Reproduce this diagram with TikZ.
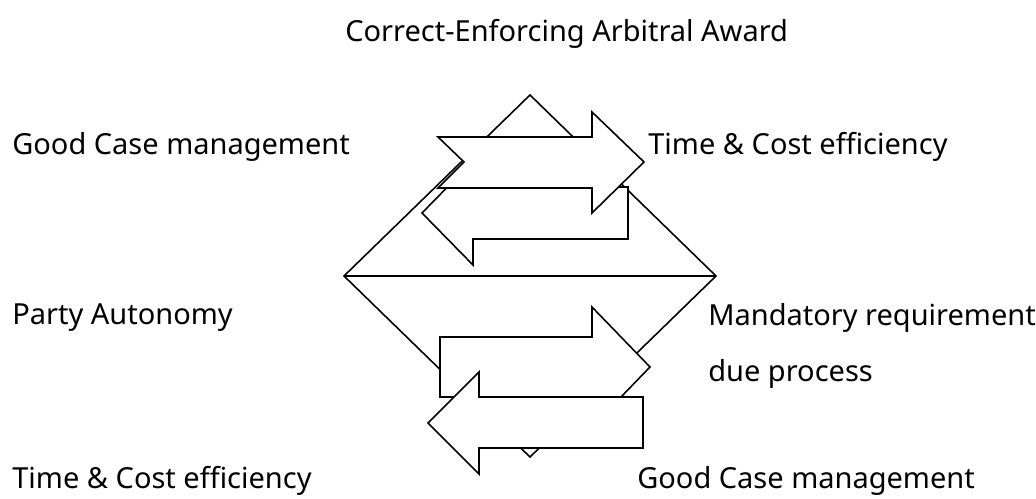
\documentclass[tikz,border=0pt]{standalone}
\usepackage{fontspec}
\setmainfont{Noto Sans}
\usepackage{tikz}
\usetikzlibrary{positioning}

\begin{document}
\begin{tikzpicture}[
  x=0.02cm, y=-0.02cm,
  shp/.style={draw=black, fill=white, line width=0.9pt, line join=miter},
  lbl/.style={font=\fontsize{16.5}{20}\selectfont, anchor=base west, inner sep=0pt},
]
\useasboundingbox (0,0) rectangle (1036,499);

% diamond
\coordinate (dtop) at (530,95);
\coordinate (drgt) at (716,276);
\coordinate (dbot) at (530,457);
\coordinate (dlft) at (344,276);
\draw[shp, fill=none] (dtop) -- (drgt) -- (dbot) -- (dlft) -- cycle;
\draw[shp] (dlft) -- (drgt);

% upper pair
\draw[shp] (422,213) -- (473,161) -- (473,187) -- (628,187) -- (628,239)
  -- (473,239) -- (473,265) -- cycle;
\draw[shp] (438,137) -- (592,137) -- (592,112) -- (644,162) -- (592,213)
  -- (592,188) -- (438,188) -- (464,162) -- cycle;

% lower pair
\draw[shp] (440,337) -- (592,337) -- (592,307) -- (650,367) -- (592,427)
  -- (592,397) -- (440,397) -- cycle;
\draw[shp] (428,423) -- (479,372) -- (479,397) -- (643,397) -- (643,448)
  -- (479,448) -- (479,474) -- cycle;

% labels
\node[lbl] (award) at (345,42) {Correct-Enforcing Arbitral Award};
\node[lbl] (gcmA) at (12,155) {Good Case management};
\node[lbl] (tceA) at (648,155) {Time \& Cost efficiency};
\node[lbl] (party) at (12,325) {Party Autonomy};
\node[lbl] (mand) at (708,326) {Mandatory requirement};
\node[lbl] (due) at (708,382) {due process};
\node[lbl] (tceB) at (12,489) {Time \& Cost efficiency};
\node[lbl] (gcmB) at (637,489) {Good Case management};
\end{tikzpicture}
\end{document}
